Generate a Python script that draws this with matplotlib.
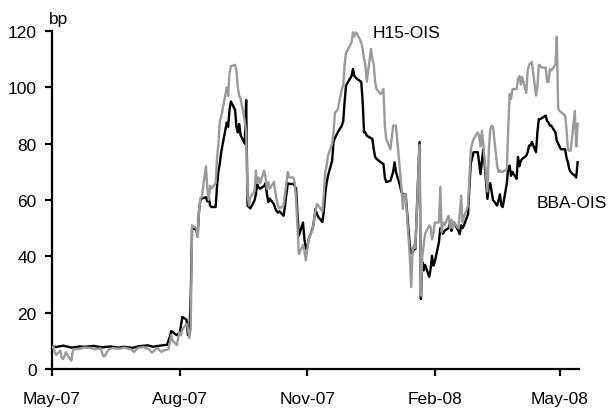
"""
Spread of 3-month term funding over OIS, May 2007 - May 2008.
BBA-OIS (black) against H15-OIS (grey), in basis points.
"""

import matplotlib
matplotlib.use('Agg')
import matplotlib.pyplot as plt
import matplotlib.dates as mdates
import pandas as pd

plt.rcParams['font.family'] = ['Liberation Sans', 'DejaVu Sans']

# ── BBA-OIS ─────────────────────────────────────────────────────────────────
bba_dates = [
    '2007-05-01', '2007-05-04', '2007-05-09', '2007-05-15', '2007-05-21', '2007-05-25', '2007-05-31',
    '2007-06-06', '2007-06-12', '2007-06-18', '2007-06-22', '2007-06-28',
    '2007-07-03', '2007-07-09', '2007-07-13', '2007-07-18', '2007-07-23', '2007-07-25', '2007-07-26',
    '2007-07-30', '2007-07-31',
    '2007-08-01', '2007-08-02', '2007-08-03', '2007-08-06', '2007-08-07', '2007-08-08', '2007-08-09',
    '2007-08-10', '2007-08-13', '2007-08-14', '2007-08-15', '2007-08-16', '2007-08-17', '2007-08-20',
    '2007-08-21', '2007-08-22', '2007-08-23', '2007-08-24', '2007-08-27', '2007-08-28', '2007-08-29',
    '2007-08-30', '2007-08-31',
    '2007-09-04', '2007-09-05', '2007-09-06', '2007-09-07', '2007-09-10', '2007-09-11', '2007-09-12',
    '2007-09-13', '2007-09-14', '2007-09-17', '2007-09-18', '2007-09-19', '2007-09-20', '2007-09-21',
    '2007-09-24', '2007-09-25', '2007-09-26', '2007-09-27', '2007-09-28',
    '2007-10-01', '2007-10-02', '2007-10-03', '2007-10-04', '2007-10-05', '2007-10-08', '2007-10-09',
    '2007-10-10', '2007-10-11', '2007-10-12', '2007-10-15', '2007-10-16', '2007-10-17', '2007-10-18',
    '2007-10-19', '2007-10-22', '2007-10-23', '2007-10-24', '2007-10-25', '2007-10-26', '2007-10-29',
    '2007-10-30', '2007-10-31',
    '2007-11-01', '2007-11-02', '2007-11-05', '2007-11-06', '2007-11-07', '2007-11-08', '2007-11-09',
    '2007-11-12', '2007-11-13', '2007-11-14', '2007-11-15', '2007-11-16', '2007-11-19', '2007-11-20',
    '2007-11-21', '2007-11-23', '2007-11-26', '2007-11-27', '2007-11-28', '2007-11-29', '2007-11-30',
    '2007-12-03', '2007-12-04', '2007-12-05', '2007-12-06', '2007-12-07', '2007-12-10', '2007-12-11',
    '2007-12-12', '2007-12-13', '2007-12-14', '2007-12-17', '2007-12-18', '2007-12-19', '2007-12-20',
    '2007-12-21', '2007-12-24', '2007-12-26', '2007-12-27', '2007-12-28', '2007-12-31',
    '2008-01-02', '2008-01-03', '2008-01-04', '2008-01-07', '2008-01-08', '2008-01-09', '2008-01-10',
    '2008-01-11', '2008-01-14', '2008-01-15', '2008-01-16', '2008-01-17', '2008-01-18', '2008-01-21',
    '2008-01-22', '2008-01-23', '2008-01-24', '2008-01-25', '2008-01-28', '2008-01-29', '2008-01-30',
    '2008-01-31',
    '2008-02-01', '2008-02-04', '2008-02-05', '2008-02-06', '2008-02-07', '2008-02-08', '2008-02-11',
    '2008-02-12', '2008-02-13', '2008-02-14', '2008-02-15', '2008-02-18', '2008-02-19', '2008-02-20',
    '2008-02-21', '2008-02-22', '2008-02-25', '2008-02-26', '2008-02-27', '2008-02-28', '2008-02-29',
    '2008-03-03', '2008-03-04', '2008-03-05', '2008-03-06', '2008-03-07', '2008-03-10', '2008-03-11',
    '2008-03-12', '2008-03-13', '2008-03-14', '2008-03-17', '2008-03-18', '2008-03-19', '2008-03-20',
    '2008-03-21', '2008-03-24', '2008-03-25', '2008-03-26', '2008-03-27', '2008-03-28', '2008-03-31',
    '2008-04-01', '2008-04-02', '2008-04-03', '2008-04-04', '2008-04-07', '2008-04-08', '2008-04-09',
    '2008-04-10', '2008-04-11', '2008-04-14', '2008-04-15', '2008-04-16', '2008-04-17', '2008-04-18',
    '2008-04-21', '2008-04-22', '2008-04-23', '2008-04-24', '2008-04-25', '2008-04-28', '2008-04-29',
    '2008-04-30',
    '2008-05-01', '2008-05-02', '2008-05-05', '2008-05-06', '2008-05-07', '2008-05-08', '2008-05-09',
    '2008-05-12', '2008-05-13', '2008-05-14',
]
bba_values = [
    8.0, 7.8, 8.3, 7.6, 8.0, 7.9, 8.2,
    7.7, 8.0, 7.6, 7.9, 7.5,
    8.1, 8.4, 7.9, 8.3, 8.6, 11.5, 13.5,
    12.0, 12.5,
    12.0, 15.5, 18.5, 17.5, 12.0, 12.0, 25.0,
    50.0, 49.5, 47.0, 56.0, 60.0, 60.5, 61.0,
    59.5, 61.0, 58.0, 57.5, 57.5, 65.0, 70.0,
    73.0, 77.0,
    87.5, 86.0, 92.0, 95.0, 92.0, 86.0, 84.0,
    87.0, 83.0, 80.0, 95.5, 58.0, 57.5, 57.0,
    59.8, 62.0, 65.5, 64.5, 64.0,
    65.0, 66.0, 62.0, 59.3, 60.5, 58.5, 57.0,
    56.0, 55.5, 56.0, 54.4, 58.0, 62.0, 66.0,
    65.7, 65.7, 65.0, 64.0, 55.0, 47.3, 52.0,
    46.2, 42.6,
    43.0, 46.0, 50.0, 53.0, 56.8, 55.0, 54.0,
    52.2, 56.0, 62.0, 66.0, 68.6, 74.0, 80.6,
    82.0, 84.0, 86.4, 88.0, 95.0, 100.6, 101.5,
    104.0, 106.5, 104.0, 103.5, 103.0, 101.9, 95.0,
    84.0, 84.0, 82.8, 82.0, 81.7, 78.0, 75.3,
    74.6, 73.4, 72.8, 68.0, 66.4, 66.8,
    70.0, 73.4, 70.0, 65.0, 62.8, 62.1, 62.1,
    62.1, 43.8, 41.0, 41.5, 42.6, 42.6, 80.6,
    24.8, 38.0, 35.0, 37.0, 32.7, 35.5, 40.2,
    36.7,
    38.0, 45.0, 50.0, 49.0, 48.0, 49.1, 50.0,
    52.0, 49.0, 51.0, 52.0, 49.0, 47.9, 51.0,
    50.0, 50.9, 55.0, 65.0, 73.0, 75.0, 77.0,
    77.0, 73.0, 69.2, 74.0, 78.0, 60.4, 65.0,
    66.0, 63.0, 60.0, 58.0, 60.0, 62.0, 58.0,
    57.5, 66.0, 71.7, 72.2, 68.6, 70.0, 67.5,
    75.3, 72.0, 73.8, 74.6, 75.7, 77.0, 79.3,
    79.3, 80.6, 77.0, 84.0, 88.7, 88.7, 89.0,
    90.0, 88.0, 87.6, 86.4, 86.4, 84.0, 81.0,
    80.0,
    79.0, 78.0, 78.0, 75.0, 73.4, 71.0, 69.9,
    68.6, 68.0, 73.4,
]

# ── H15-OIS ─────────────────────────────────────────────────────────────────
h15_dates = [
    '2007-05-01', '2007-05-02', '2007-05-03', '2007-05-04', '2007-05-07', '2007-05-08', '2007-05-09',
    '2007-05-10', '2007-05-11', '2007-05-14', '2007-05-15', '2007-05-16', '2007-05-17', '2007-05-21',
    '2007-05-24', '2007-05-29',
    '2007-06-01', '2007-06-05', '2007-06-07', '2007-06-08', '2007-06-11', '2007-06-14', '2007-06-19',
    '2007-06-22', '2007-06-27', '2007-06-29',
    '2007-07-02', '2007-07-06', '2007-07-10', '2007-07-12', '2007-07-16', '2007-07-19', '2007-07-20',
    '2007-07-24', '2007-07-25', '2007-07-26', '2007-07-27', '2007-07-30', '2007-07-31',
    '2007-08-01', '2007-08-02', '2007-08-03', '2007-08-06', '2007-08-07', '2007-08-08', '2007-08-09',
    '2007-08-10', '2007-08-13', '2007-08-14', '2007-08-15', '2007-08-16', '2007-08-17', '2007-08-20',
    '2007-08-21', '2007-08-22', '2007-08-23', '2007-08-24', '2007-08-27', '2007-08-28', '2007-08-29',
    '2007-08-30', '2007-08-31',
    '2007-09-04', '2007-09-05', '2007-09-06', '2007-09-07', '2007-09-10', '2007-09-11', '2007-09-12',
    '2007-09-13', '2007-09-14', '2007-09-17', '2007-09-18', '2007-09-19', '2007-09-20', '2007-09-21',
    '2007-09-24', '2007-09-25', '2007-09-26', '2007-09-27', '2007-09-28',
    '2007-10-01', '2007-10-02', '2007-10-03', '2007-10-04', '2007-10-05', '2007-10-08', '2007-10-09',
    '2007-10-10', '2007-10-11', '2007-10-12', '2007-10-15', '2007-10-16', '2007-10-17', '2007-10-18',
    '2007-10-19', '2007-10-22', '2007-10-23', '2007-10-24', '2007-10-25', '2007-10-26', '2007-10-29',
    '2007-10-30', '2007-10-31',
    '2007-11-01', '2007-11-02', '2007-11-05', '2007-11-06', '2007-11-07', '2007-11-08', '2007-11-09',
    '2007-11-12', '2007-11-13', '2007-11-14', '2007-11-15', '2007-11-16', '2007-11-19', '2007-11-20',
    '2007-11-21', '2007-11-23', '2007-11-26', '2007-11-27', '2007-11-28', '2007-11-29', '2007-11-30',
    '2007-12-03', '2007-12-04', '2007-12-05', '2007-12-06', '2007-12-07', '2007-12-10', '2007-12-11',
    '2007-12-12', '2007-12-13', '2007-12-14', '2007-12-17', '2007-12-18', '2007-12-19', '2007-12-20',
    '2007-12-21', '2007-12-24', '2007-12-26', '2007-12-27', '2007-12-28', '2007-12-31',
    '2008-01-02', '2008-01-03', '2008-01-04', '2008-01-07', '2008-01-08', '2008-01-09', '2008-01-10',
    '2008-01-11', '2008-01-14', '2008-01-15', '2008-01-16', '2008-01-17', '2008-01-18', '2008-01-21',
    '2008-01-22', '2008-01-23', '2008-01-24', '2008-01-25', '2008-01-28', '2008-01-29', '2008-01-30',
    '2008-01-31',
    '2008-02-01', '2008-02-04', '2008-02-05', '2008-02-06', '2008-02-07', '2008-02-08', '2008-02-11',
    '2008-02-12', '2008-02-13', '2008-02-14', '2008-02-15', '2008-02-18', '2008-02-19', '2008-02-20',
    '2008-02-21', '2008-02-22', '2008-02-25', '2008-02-26', '2008-02-27', '2008-02-28', '2008-02-29',
    '2008-03-03', '2008-03-04', '2008-03-05', '2008-03-06', '2008-03-07', '2008-03-10', '2008-03-11',
    '2008-03-12', '2008-03-13', '2008-03-14', '2008-03-17', '2008-03-18', '2008-03-19', '2008-03-20',
    '2008-03-21', '2008-03-24', '2008-03-25', '2008-03-26', '2008-03-27', '2008-03-28', '2008-03-31',
    '2008-04-01', '2008-04-02', '2008-04-03', '2008-04-04', '2008-04-07', '2008-04-08', '2008-04-09',
    '2008-04-10', '2008-04-11', '2008-04-14', '2008-04-15', '2008-04-16', '2008-04-17', '2008-04-18',
    '2008-04-21', '2008-04-22', '2008-04-23', '2008-04-24', '2008-04-25', '2008-04-28', '2008-04-29',
    '2008-04-30',
    '2008-05-01', '2008-05-02', '2008-05-05', '2008-05-06', '2008-05-07', '2008-05-08', '2008-05-09',
    '2008-05-12', '2008-05-13', '2008-05-14',
]
h15_values = [
    7.5, 8.0, 6.0, 5.0, 6.5, 4.0, 3.5,
    4.5, 6.0, 3.5, 3.0, 6.5, 7.0, 7.2,
    7.6, 7.5,
    7.0, 7.3, 4.5, 4.6, 7.0, 7.4, 7.2,
    7.6, 7.0, 6.0,
    7.5, 7.8, 7.0, 5.8, 7.5, 6.0, 6.5,
    7.0, 9.5, 12.0, 10.0, 8.5, 11.0,
    13.0, 12.0, 14.0, 16.0, 14.5, 11.0, 14.0,
    51.0, 50.0, 47.0, 56.0, 60.5, 61.0, 72.0,
    64.0, 60.0, 65.0, 64.0, 66.0, 75.0, 80.0,
    88.0, 89.5,
    100.0, 97.0, 105.0, 107.5, 108.0, 106.0, 100.0,
    97.0, 96.0, 88.0, 84.0, 62.0, 58.0, 61.0,
    63.0, 70.4, 66.0, 68.0, 66.0,
    70.4, 68.0, 64.0, 66.4, 64.0, 66.4, 63.0,
    60.0, 58.0, 57.0, 58.0, 62.0, 66.0, 69.9,
    68.0, 68.0, 66.0, 60.0, 50.0, 40.8, 44.0,
    42.0, 38.5,
    42.0, 46.0, 49.7, 53.0, 56.0, 58.6, 58.0,
    56.0, 62.0, 70.0, 72.0, 75.7, 80.0, 84.0,
    91.0, 92.0, 99.4, 100.6, 108.0, 112.5, 113.0,
    116.0, 119.5, 118.0, 119.5, 119.0, 116.0, 113.6,
    110.0, 108.0, 102.0, 113.6, 110.0, 108.0, 101.9,
    99.4, 97.6, 99.4, 86.4, 81.7, 78.0,
    86.4, 86.4, 86.4, 70.0, 63.9, 56.8, 62.0,
    62.0, 40.0, 29.1, 42.0, 44.0, 43.0, 79.5,
    26.0, 40.0, 44.0, 48.0, 50.9, 50.4, 46.0,
    48.0,
    52.0, 52.0, 64.6, 48.6, 52.0, 51.0, 54.4,
    50.0, 53.0, 50.0, 52.0, 50.0, 55.0, 61.5,
    52.0, 54.0, 58.0, 68.0, 78.0, 80.0, 81.7,
    84.0, 82.8, 79.0, 84.6, 80.0, 63.0, 78.0,
    85.0, 86.4, 85.9, 72.0, 69.9, 70.5, 69.9,
    70.0, 71.0, 86.0, 97.6, 95.9, 99.4, 99.4,
    103.0, 104.0, 101.0, 103.7, 98.0, 106.0, 108.0,
    108.5, 109.0, 97.0, 100.0, 108.0, 107.7, 107.0,
    107.0, 102.0, 101.9, 106.5, 106.0, 108.0, 117.9,
    92.3,
    91.7, 91.2, 90.0, 85.0, 78.0, 77.4, 77.5,
    91.6, 79.0, 87.0,
]

y_ticks = [0, 20, 40, 60, 80, 100, 120]
x_ticks = ['2007-05-01', '2007-08-01', '2007-11-01', '2008-02-01', '2008-05-01']

BBA_COLOR = '#000000'
H15_COLOR = '#9a9a9a'

fig = plt.figure(figsize=(6.09, 4.10), dpi=100)
ax = fig.add_axes([52 / 609, 40 / 410, 527 / 609, 338 / 410])

ax.plot(pd.to_datetime(bba_dates), bba_values, color=BBA_COLOR, linewidth=1.7, zorder=2)
ax.plot(pd.to_datetime(h15_dates), h15_values, color=H15_COLOR, linewidth=1.7, zorder=3)

ax.set_xlim(pd.Timestamp('2007-05-01'), pd.Timestamp('2008-05-15'))
ax.set_ylim(0, 120)
ax.set_yticks(y_ticks)
ax.set_xticks(pd.to_datetime(x_ticks))
ax.xaxis.set_major_formatter(mdates.DateFormatter('%b-%y'))

for side in ('top', 'right'):
    ax.spines[side].set_visible(False)
for side in ('left', 'bottom'):
    ax.spines[side].set_linewidth(1.6)

ax.tick_params(axis='both', direction='out', length=5, width=1.6,
               labelsize=12.5, colors='black')
ax.tick_params(axis='y', pad=6)
ax.tick_params(axis='x', pad=11)

# unit label and series names
fig.text(49 / 609, 1 - 27 / 410, 'bp', fontsize=12.5, ha='left', va='bottom')
fig.text(373 / 609, 1 - 33.5 / 410, 'H15-OIS', fontsize=12.5, ha='left', va='center')
fig.text(537 / 609, 1 - 204 / 410, 'BBA-OIS', fontsize=12.5, ha='left', va='center')

fig.savefig('out.png', dpi=100)
plt.close(fig)
